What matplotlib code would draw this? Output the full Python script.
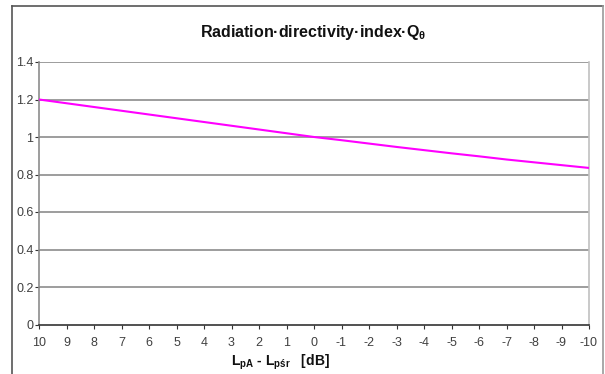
import matplotlib
matplotlib.use("Agg")
import matplotlib.pyplot as plt
from matplotlib.lines import Line2D

plt.rcParams['font.family'] = ['Liberation Sans', 'DejaVu Sans']
plt.rcParams['mathtext.fontset'] = 'custom'
plt.rcParams['mathtext.rm'] = 'Liberation Sans'
plt.rcParams['mathtext.bf'] = 'Liberation Sans:bold'
plt.rcParams['mathtext.it'] = 'Liberation Sans:italic'

categories = ["10", "9", "8", "7", "6", "5", "4", "3", "2", "1", "0",
              "-1", "-2", "-3", "-4", "-5", "-6", "-7", "-8", "-9", "-10"]
q_values = [1.20, 1.18, 1.16, 1.14, 1.12, 1.10, 1.08, 1.06, 1.04, 1.02, 1.00,
            0.983, 0.965, 0.947, 0.93, 0.913, 0.897, 0.88, 0.865, 0.85, 0.835]
y_ticks = [0, 0.2, 0.4, 0.6, 0.8, 1.0, 1.2, 1.4]
y_labels = ["0", "0.2", "0.4", "0.6", "0.8", "1", "1.2", "1.4"]

W, H = 605, 374
fig = plt.figure(figsize=(W / 100, H / 100), dpi=100)
ax = fig.add_axes([39 / W, 1 - 324.5 / H, 550 / W, 262.5 / H])

x = list(range(len(categories)))
ax.plot(x, q_values, color='#FF00FF', lw=1.5, solid_capstyle='butt', zorder=3)

ax.set_xlim(0, len(categories) - 1)
ax.set_ylim(0, 1.4)
ax.set_yticks(y_ticks)
ax.set_yticklabels(y_labels)
ax.set_xticks(x)
ax.set_xticklabels(categories)

for yv in y_ticks[1:]:
    ax.axhline(yv, color='#8c8c8c', lw=1.2, zorder=1)

for s in ['top']:
    ax.spines[s].set_visible(False)
ax.spines['right'].set_color('#c0c0c0')
ax.spines['right'].set_linewidth(1.2)
ax.spines['left'].set_color('#8c8c8c')
ax.spines['left'].set_linewidth(1.2)
ax.spines['bottom'].set_color('#333333')
ax.spines['bottom'].set_linewidth(1.2)

ax.tick_params(axis='both', direction='out', length=3, width=0.8,
               color='#333333', labelsize=9, labelcolor='#404040')
ax.tick_params(axis='x', pad=6)
ax.tick_params(axis='y', pad=1)

fig.text(313 / W, 1 - 32 / H,
         r"Radiation·directivity·index·Q$_{\mathbf{\theta}}$",
         ha='center', va='center', fontsize=11.5, fontweight='bold', color='#111111')

fig.text(280 / W, 1 - 362 / H,
         r"$\mathbf{L_{pA}}$" + " - " + r"$\mathbf{L_{pśr}}$" + "   [dB]",
         ha='center', va='center', fontsize=10, fontweight='bold', color='#111111')

# outer frame
fig.add_artist(Line2D([12 / W, 12 / W], [0, 1 - 6 / H], transform=fig.transFigure,
                      color='#555555', lw=1.2))
fig.add_artist(Line2D([12 / W, 603 / W], [1 - 6 / H, 1 - 6 / H], transform=fig.transFigure,
                      color='#555555', lw=1.2))
fig.add_artist(Line2D([603 / W, 603 / W], [0, 1 - 6 / H], transform=fig.transFigure,
                      color='#999999', lw=1.2))

fig.savefig("out.png", dpi=100)
